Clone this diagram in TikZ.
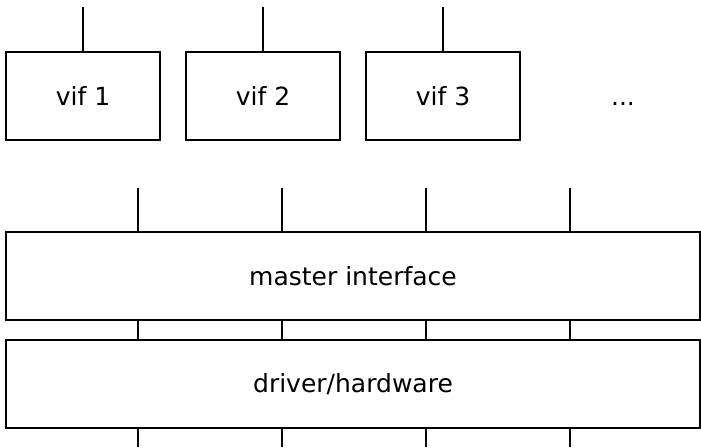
\documentclass[tikz,border=0pt]{standalone}
\usepackage{fontspec}
\setmainfont{DejaVu Sans}
\begin{document}
\begin{tikzpicture}[x=1pt,y=-1pt,
  txt/.style={font=\fontsize{25}{30}\selectfont},
  box/.style={draw,line width=1.8pt,minimum width=154pt,minimum height=88pt,inner sep=0pt,txt},
  wide/.style={draw,line width=1.8pt,minimum width=694pt,minimum height=88pt,inner sep=0pt,txt},
  conn/.style={line width=1.8pt}]
\useasboundingbox (0,0) rectangle (701,447);
\node[box] (v1) at (83,96) {vif 1};
\node[box] (v2) at (263,96) {vif 2};
\node[box] (v3) at (443,96) {vif 3};
\coordinate (dx) at (623,96);
\node[txt,anchor=base,inner sep=0pt] (dots) at (dx |- v3.base) {...};
\node[wide] (mi) at (353,276) {master interface};
\node[wide] (dh) at (353,384) {driver/hardware};
\foreach \i in {1,2,3} {
  \coordinate (t\i) at ([yshift=44pt]v\i.north);
  \draw[conn] (v\i.north) -- (t\i);
}
\foreach \x [count=\i] in {138,282,426,570} {
  \coordinate (mt\i) at (\x,188);
  \coordinate (db\i) at (\x,447);
  \draw[conn] (mt\i) -- (mt\i |- mi.north);
  \draw[conn] (mt\i |- mi.south) -- (mt\i |- dh.north);
  \draw[conn] (mt\i |- dh.south) -- (db\i);
}
\end{tikzpicture}
\end{document}
